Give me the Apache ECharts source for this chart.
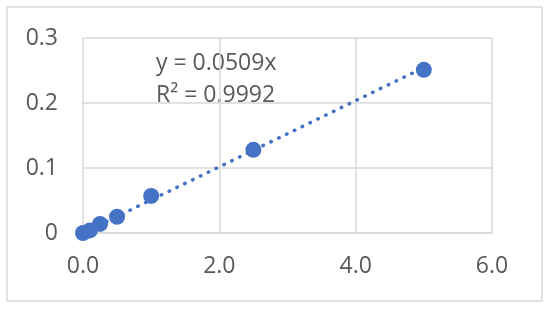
<!DOCTYPE html>
<html>
<head>
<meta charset="utf-8">
<script src="https://cdn.jsdelivr.net/npm/echarts@6/dist/echarts.min.js"></script>
<style>
  html, body { margin: 0; padding: 0; background: #fff; }
</style>
</head>
<body>
<div id="chart" style="width:550px;height:313px;"></div>
<script>
// concentration vs. absorbance
var xs = [0, 0.1, 0.25, 0.5, 1.0, 2.5, 5.0];
var ys = [0, 0.004, 0.014, 0.025, 0.057, 0.128, 0.251];
var xTicks = ['0.0', '2.0', '4.0', '6.0'];
var yTicks = ['0', '0.1', '0.2', '0.3'];
var slope = 0.0509;
var r2 = '0.9992';

var points = xs.map(function (x, i) { return [x, ys[i]]; });
var trend = [[xs[0], slope * xs[0]], [xs[xs.length - 1], slope * xs[xs.length - 1]]];

var txt = '#595959';
var gridCol = '#d9d9d9';
var font = '"Open Sans", "Noto Sans", sans-serif';

var myChart = echarts.init(document.getElementById('chart'));
var option = {
  animation: false,
  grid: { left: 83, right: 58, top: 38, bottom: 80 },
  xAxis: {
    type: 'value',
    min: 0, max: 6, interval: 2,
    axisLine: { show: true, lineStyle: { color: gridCol, width: 1.5 } },
    axisTick: { show: false },
    splitLine: { show: true, lineStyle: { color: gridCol, width: 1.5 } },
    axisLabel: {
      color: txt, fontSize: 23, fontFamily: font, margin: 22,
      formatter: function (v) { return xTicks[Math.round(v / 2)]; }
    }
  },
  yAxis: {
    type: 'value',
    min: 0, max: 0.3, interval: 0.1,
    axisLine: { show: false },
    axisTick: { show: false },
    splitLine: { show: true, lineStyle: { color: gridCol, width: 1.5 } },
    axisLabel: {
      color: txt, fontSize: 23, fontFamily: font, margin: 25,
      formatter: function (v) { return yTicks[Math.round(v * 10)]; }
    }
  },
  graphic: [
    {
      type: 'rect', silent: true,
      shape: { x: 7, y: 7, width: 535, height: 294 },
      style: { fill: null, stroke: gridCol, lineWidth: 1.5 }
    },
    {
      type: 'text', left: 156, top: 52, silent: true,
      style: { text: 'y = ' + slope + 'x', fill: txt, font: '23px ' + font }
    },
    {
      type: 'text', left: 156, top: 84, silent: true,
      style: { text: 'R² = ' + r2, fill: txt, font: '23px ' + font }
    }
  ],
  series: [
    {
      type: 'line',
      data: trend,
      showSymbol: false,
      z: 1,
      lineStyle: { color: '#4472C4', width: 3.5, type: [0.5, 8.2], cap: 'round' }
    },
    {
      type: 'scatter',
      data: points,
      symbolSize: 16,
      z: 2,
      itemStyle: { color: '#4472C4', opacity: 1 }
    }
  ]
};
myChart.setOption(option);
</script>
</body>
</html>
